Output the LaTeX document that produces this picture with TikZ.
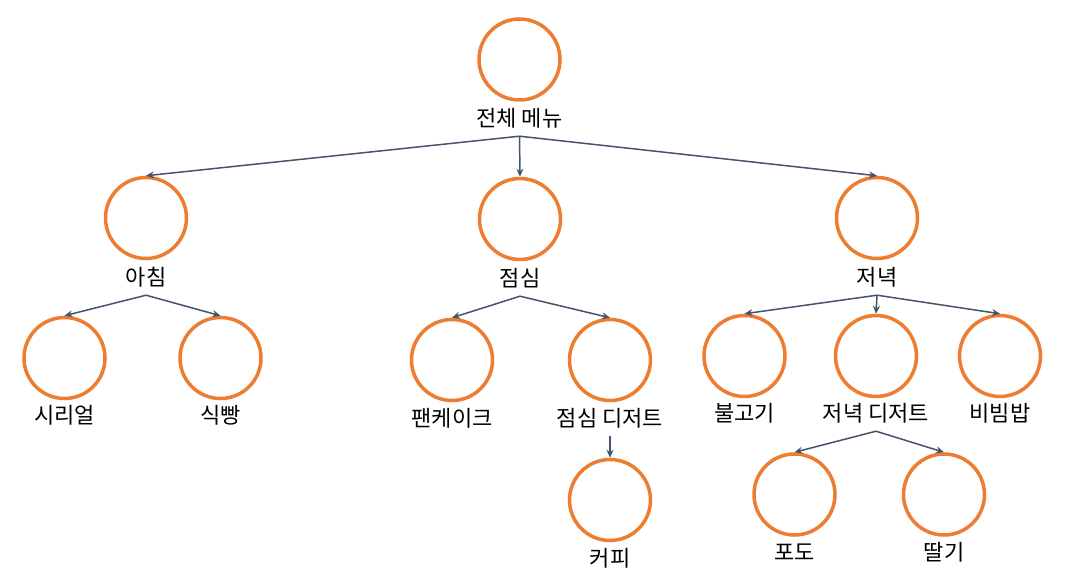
\documentclass[tikz,border=0pt]{standalone}
\usepackage{fontspec}
\setmainfont{Noto Sans CJK KR}
\usetikzlibrary{arrows.meta}
\definecolor{orng}{HTML}{ED7D31}
\definecolor{slate}{HTML}{44546A}
\begin{document}
\begin{tikzpicture}[x=1pt,y=-1pt,
  ring/.style={circle,draw=orng,line width=3.5pt,minimum size=81pt,inner sep=0pt},
  lbl/.style={inner sep=0pt,minimum height=36pt,font=\fontsize{22}{26}\selectfont},
  conn/.style={draw=slate,line width=1.5pt,-{Stealth[length=8pt,width=7pt]}}]
\path[use as bounding box,fill=white] (0,0) rectangle (1071,577);
% nodes
\node[ring] (root) at (519.5,59.5) {};
\node[lbl] (rootl) at (519.5,118) {전체 메뉴};
\node[ring] (a) at (146,218) {};
\node[lbl] (al) at (146,277) {아침};
\node[ring] (b) at (520,219) {};
\node[lbl] (bl) at (520,278) {점심};
\node[ring] (c) at (877,218) {};
\node[lbl] (cl) at (877,277) {저녁};
\node[ring] (a1) at (64.5,358) {};
\node[lbl] (a1l) at (64.5,415) {시리얼};
\node[ring] (a2) at (220.5,358) {};
\node[lbl] (a2l) at (220.5,415) {식빵};
\node[ring] (b1) at (452,360) {};
\node[lbl] (b1l) at (452,418) {팬케이크};
\node[ring] (b2) at (610,360) {};
\node[lbl] (b2l) at (610,418) {점심 디저트};
\node[ring] (b21) at (610,500) {};
\node[lbl] (b21l) at (610,558) {커피};
\node[ring] (c1) at (744.5,356) {};
\node[lbl] (c1l) at (744.5,413) {불고기};
\node[ring] (c2) at (876,356) {};
\node[lbl] (c2l) at (876,413) {저녁 디저트};
\node[ring] (c3) at (1000,356) {};
\node[lbl] (c3l) at (1000,413) {비빔밥};
\node[ring] (c21) at (794.5,494.5) {};
\node[lbl] (c21l) at (794.5,552) {포도};
\node[ring] (c22) at (944,494.5) {};
\node[lbl] (c22l) at (944,552) {딸기};
% connectors
\draw[conn] (rootl.south) -- (a.north);
\draw[conn] (rootl.south) -- (b.north);
\draw[conn] (rootl.south) -- (c.north);
\draw[conn] (al.south) -- (a1.north);
\draw[conn] (al.south) -- (a2.north);
\draw[conn] (bl.south) -- (b1.north);
\draw[conn] (bl.south) -- (b2.north);
\draw[conn] (b2l.south) -- (b21.north);
\draw[conn] (cl.south) -- (c1.north);
\draw[conn] (cl.south) -- (c2.north);
\draw[conn] (cl.south) -- (c3.north);
\draw[conn] (c2l.south) -- (c21.north);
\draw[conn] (c2l.south) -- (c22.north);
\end{tikzpicture}
\end{document}
